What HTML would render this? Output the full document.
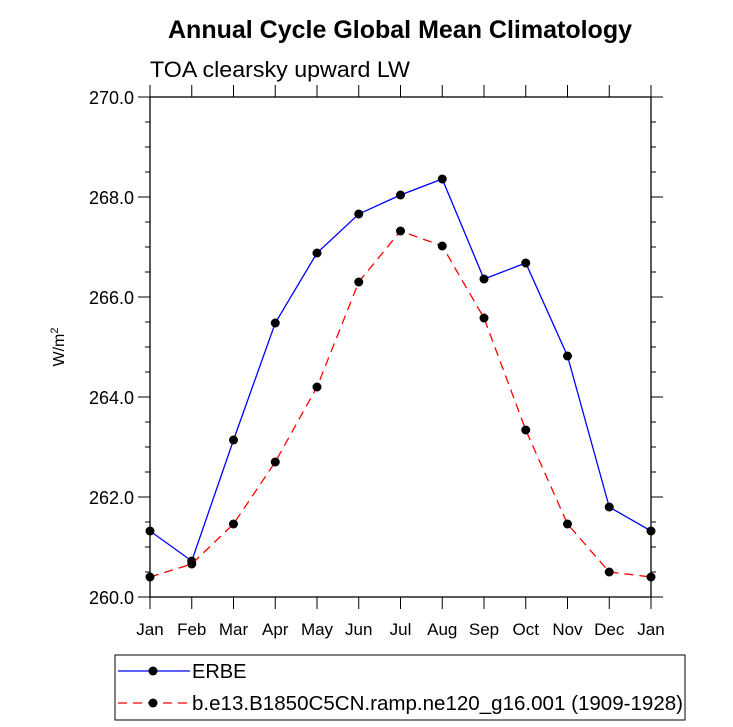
<!DOCTYPE html>
<html><head><meta charset="utf-8"><style>body{margin:0;background:#fff}svg{display:block;font-family:"Liberation Sans",sans-serif}</style></head>
<body>
<svg id="chart" width="733" height="727" viewBox="0 0 733 727" xmlns="http://www.w3.org/2000/svg">
<text x="400" y="38" text-anchor="middle" font-size="25" font-weight="bold" textLength="464" lengthAdjust="spacingAndGlyphs">Annual Cycle Global Mean Climatology</text>
<text x="150" y="77" font-size="22" textLength="260" lengthAdjust="spacingAndGlyphs">TOA clearsky upward LW</text>
<text transform="translate(64,347) rotate(-90)" text-anchor="middle" font-size="16">W/m<tspan dy="-6" font-size="11">2</tspan></text>
<g id="axes"></g>
<g id="series"></g>
<g>
<rect x="115" y="655" width="570" height="65" fill="none" stroke="#000" stroke-width="1"/>
<line x1="118" y1="671" x2="190" y2="671" stroke="#00f" stroke-width="1.3"/>
<circle cx="153" cy="671" r="4.5"/>
<text x="192" y="678" font-size="20">ERBE</text>
<line x1="118" y1="703" x2="190" y2="703" stroke="#f00" stroke-width="1.3" stroke-dasharray="9,6"/>
<circle cx="153" cy="703" r="4.5"/>
<text x="192" y="710" font-size="20" textLength="491" lengthAdjust="spacingAndGlyphs">b.e13.B1850C5CN.ramp.ne120_g16.001 (1909-1928)</text>
</g>
</svg>
<script>
const months=["Jan","Feb","Mar","Apr","May","Jun","Jul","Aug","Sep","Oct","Nov","Dec","Jan"];
const erbe=[261.32,260.72,263.14,265.48,266.88,267.66,268.04,268.36,266.36,266.68,264.82,261.8,261.32];
const model=[260.4,260.66,261.46,262.7,264.2,266.3,267.32,267.02,265.58,263.34,261.46,260.5,260.4];
const yTicks=[260,262,264,266,268,270];
const NS="http://www.w3.org/2000/svg";
const X0=150,X1=651,Y0=597,Y1=97,ymin=260,ymax=270;
const xs=i=>X0+i*(X1-X0)/(months.length-1);
const ys=v=>Y0-(v-ymin)/(ymax-ymin)*(Y0-Y1);
function mk(t,a,p){const e=document.createElementNS(NS,t);for(const k in a)e.setAttribute(k,a[k]);p.appendChild(e);return e;}
const ax=document.getElementById('axes');
const frame=mk('rect',{x:X0,y:Y1,width:X1-X0,height:Y0-Y1,fill:'none',stroke:'#000','stroke-width':1.3},ax);


months.forEach((m,i)=>{const x=xs(i);
mk('line',{x1:x,y1:Y0,x2:x,y2:Y0+12,stroke:'#000'},ax);
mk('line',{x1:x,y1:Y1,x2:x,y2:Y1-12,stroke:'#000'},ax);
const t=mk('text',{x:x,y:Y0+38,'text-anchor':'middle','font-size':17},ax);t.textContent=m;

});
for(let v=ymin;v<=ymax+1e-9;v+=0.5){const y=ys(v);const major=Math.abs(v/2-Math.round(v/2))<1e-9;const L=major?12:5;
mk('line',{x1:X0,y1:y,x2:X0-L,y2:y,stroke:'#000'},ax);mk('line',{x1:X1,y1:y,x2:X1+L,y2:y,stroke:'#000'},ax);}
yTicks.forEach(v=>{const t=mk('text',{x:X0-16,y:ys(v)+7,'text-anchor':'end','font-size':18},ax);t.textContent=v.toFixed(1);

});
const sg=document.getElementById('series');
function series(data,color,dash,name){
const p=mk('polyline',{points:data.map((v,i)=>xs(i)+','+ys(v)).join(' '),fill:'none',stroke:color,'stroke-width':1.3},sg);
if(dash)p.setAttribute('stroke-dasharray',dash);


data.forEach((v,i)=>{const c=mk('circle',{cx:xs(i),cy:ys(v),r:4.5,fill:'#000'},sg);

});}
series(erbe,'#00f',null,'erbe');
series(model,'#f00','9,6','model');
</script>
</body></html>
